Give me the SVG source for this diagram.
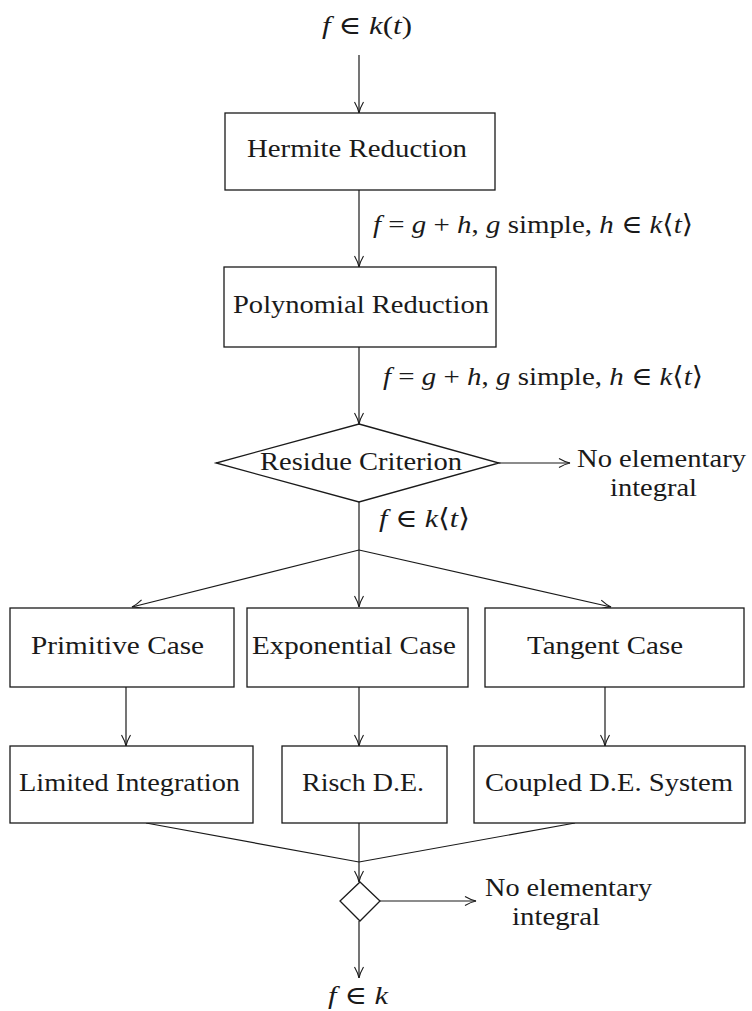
<svg xmlns="http://www.w3.org/2000/svg" width="752" height="1011" viewBox="0 0 752 1011">
<style>
text{font-family:"Liberation Serif","DejaVu Serif",serif;font-size:26px;fill:#1a1a1a}
.i{font-style:italic}
.box{fill:#fff;stroke:#1a1a1a;stroke-width:1.3}
.ln{fill:none;stroke:#1a1a1a;stroke-width:1.2}
</style>
<defs>
<marker id="ah" markerWidth="14" markerHeight="12" refX="12" refY="6" orient="auto" markerUnits="userSpaceOnUse">
<path d="M1,1.5 Q7,5 12,6 Q7,7 1,10.5" fill="none" stroke="#1a1a1a" stroke-width="1.1"/>
</marker>
</defs>
<rect width="752" height="1011" fill="#fff"/>
<g id="connectors">
<line class="ln" x1="359" y1="55" x2="359" y2="113" marker-end="url(#ah)"/>
<line class="ln" x1="359" y1="190" x2="359" y2="267" marker-end="url(#ah)"/>
<line class="ln" x1="359" y1="347" x2="359" y2="424" marker-end="url(#ah)"/>
<line class="ln" x1="499" y1="463" x2="570" y2="463" marker-end="url(#ah)"/>
<line class="ln" x1="359" y1="502" x2="359" y2="550"/>
<line class="ln" x1="359" y1="550" x2="132" y2="607" marker-end="url(#ah)"/>
<line class="ln" x1="359" y1="550" x2="359" y2="607" marker-end="url(#ah)"/>
<line class="ln" x1="359" y1="550" x2="611" y2="607" marker-end="url(#ah)"/>
<line class="ln" x1="126" y1="687" x2="126" y2="746" marker-end="url(#ah)"/>
<line class="ln" x1="359" y1="687" x2="359" y2="746" marker-end="url(#ah)"/>
<line class="ln" x1="605" y1="687" x2="605" y2="746" marker-end="url(#ah)"/>
<line class="ln" x1="146" y1="823" x2="359" y2="862"/>
<line class="ln" x1="575" y1="823" x2="359" y2="862"/>
<line class="ln" x1="359" y1="823" x2="359" y2="882" marker-end="url(#ah)"/>
<line class="ln" x1="380" y1="901" x2="476" y2="901" marker-end="url(#ah)"/>
<line class="ln" x1="359" y1="921" x2="359" y2="978" marker-end="url(#ah)"/>
<text x="373" y="233" textLength="320" lengthAdjust="spacingAndGlyphs"><tspan class="i">f</tspan> = <tspan class="i">g</tspan> + <tspan class="i">h</tspan>, <tspan class="i">g</tspan> simple, <tspan class="i">h</tspan> ∈ <tspan class="i">k</tspan>⟨<tspan class="i">t</tspan>⟩</text>
<text x="383" y="385" textLength="320" lengthAdjust="spacingAndGlyphs"><tspan class="i">f</tspan> = <tspan class="i">g</tspan> + <tspan class="i">h</tspan>, <tspan class="i">g</tspan> simple, <tspan class="i">h</tspan> ∈ <tspan class="i">k</tspan>⟨<tspan class="i">t</tspan>⟩</text>
<text x="379" y="527" textLength="91" lengthAdjust="spacingAndGlyphs"><tspan class="i">f</tspan> ∈ <tspan class="i">k</tspan>⟨<tspan class="i">t</tspan>⟩</text>
</g>
<g id="start">
<text x="322" y="34" textLength="90" lengthAdjust="spacingAndGlyphs"><tspan class="i">f</tspan> ∈ <tspan class="i">k</tspan>(<tspan class="i">t</tspan>)</text>
</g>
<g id="hermite">
<rect class="box" x="225" y="113" width="270" height="77"/>
<text x="247" y="157" textLength="220" lengthAdjust="spacingAndGlyphs">Hermite Reduction</text>
</g>
<g id="polynomial">
<rect class="box" x="224" y="267" width="272" height="80"/>
<text x="233" y="313" textLength="256" lengthAdjust="spacingAndGlyphs">Polynomial Reduction</text>
</g>
<g id="residue">
<polygon class="box" points="359,424 499,463 359,502 216,463"/>
<text x="260" y="470" textLength="202" lengthAdjust="spacingAndGlyphs">Residue Criterion</text>
</g>
<g id="noelem1">
<text x="577" y="467" textLength="169" lengthAdjust="spacingAndGlyphs">No elementary</text>
<text x="610" y="496" textLength="87" lengthAdjust="spacingAndGlyphs">integral</text>
</g>
<g id="primitive">
<rect class="box" x="10" y="608" width="224" height="79"/>
<text x="31" y="654" textLength="173" lengthAdjust="spacingAndGlyphs">Primitive Case</text>
</g>
<g id="exponential">
<rect class="box" x="247" y="608" width="221" height="79"/>
<text x="252" y="654" textLength="204" lengthAdjust="spacingAndGlyphs">Exponential Case</text>
</g>
<g id="tangent">
<rect class="box" x="485" y="608" width="259" height="79"/>
<text x="527" y="654" textLength="156" lengthAdjust="spacingAndGlyphs">Tangent Case</text>
</g>
<g id="limited">
<rect class="box" x="10" y="746" width="243" height="77"/>
<text x="19" y="791" textLength="221" lengthAdjust="spacingAndGlyphs">Limited Integration</text>
</g>
<g id="risch">
<rect class="box" x="282" y="746" width="165" height="77"/>
<text x="302" y="791" textLength="122" lengthAdjust="spacingAndGlyphs">Risch D.E.</text>
</g>
<g id="coupled">
<rect class="box" x="474" y="746" width="271" height="77"/>
<text x="485" y="791" textLength="248" lengthAdjust="spacingAndGlyphs">Coupled D.E. System</text>
</g>
<g id="check">
<polygon class="box" points="360,882 380,901 360,921 340,901"/>
</g>
<g id="noelem2">
<text x="485" y="896" textLength="167" lengthAdjust="spacingAndGlyphs">No elementary</text>
<text x="512" y="925" textLength="88" lengthAdjust="spacingAndGlyphs">integral</text>
</g>
<g id="end">
<text x="328" y="1004" textLength="60" lengthAdjust="spacingAndGlyphs"><tspan class="i">f</tspan> ∈ <tspan class="i">k</tspan></text>
</g>
</svg>
